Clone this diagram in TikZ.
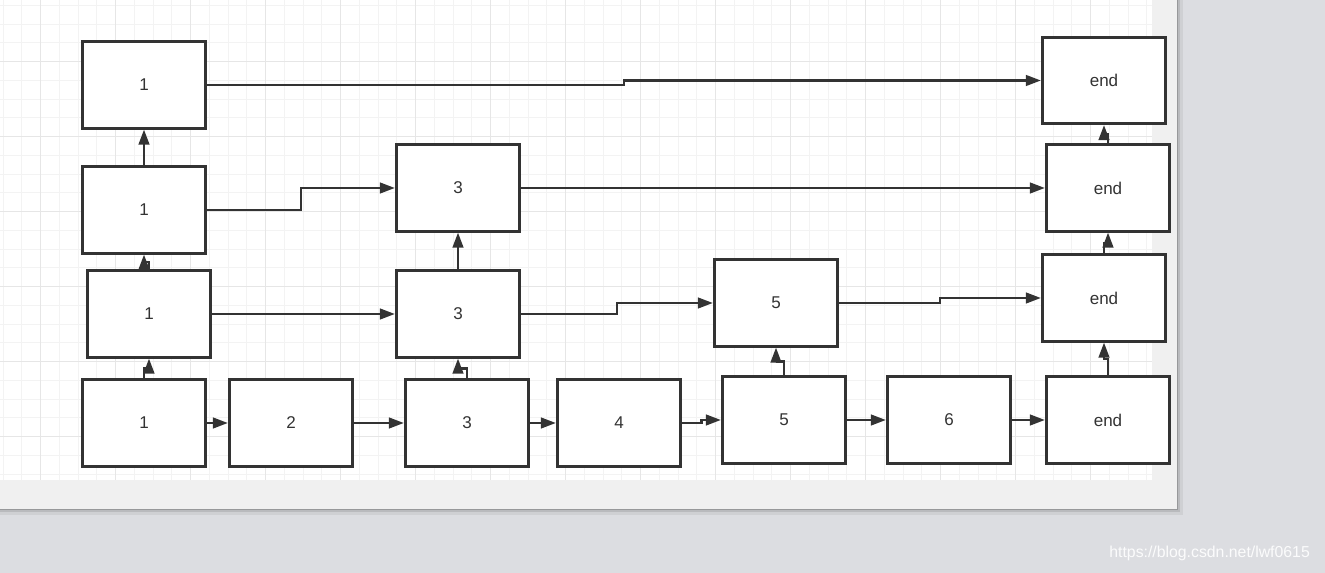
\documentclass[tikz,border=0pt]{standalone}
\usepackage{fontspec}
\setmainfont{Liberation Sans}
\usetikzlibrary{arrows.meta,calc}
\definecolor{boxline}{RGB}{51,51,51}
\definecolor{gridminor}{RGB}{243,243,243}
\definecolor{gridmajor}{RGB}{230,230,230}
\definecolor{pageband}{RGB}{240,240,240}
\definecolor{outside}{RGB}{220,221,225}

\begin{document}
\begin{tikzpicture}[x=0.02cm, y=-0.02cm, >={Triangle[length=0.3cm,width=0.21cm]},
	box/.style={draw=boxline, line width=1.5pt, fill=white, minimum width=2.47cm,
		minimum height=1.73cm, inner sep=0pt, text=boxline, font=\fontsize{9.7}{11}\selectfont},
	link/.style={->, draw=boxline, line width=1.45pt}]
			\useasboundingbox (0,0) rectangle (1325,573);
			% page and canvas
			\fill[outside] (0,0) rectangle (1325,573);
			\fill[black, opacity=0.06] (0,0) rectangle (1183,515);
			\fill[black, opacity=0.10] (0,0) rectangle (1180,512);
			\fill[black, opacity=0.18] (0,0) rectangle (1178,510);
			\fill[pageband] (0,0) rectangle (1177,509);
			\fill[white] (0,0) rectangle (1152,480);
			\foreach \gx in {0,...,61}
				\draw[gridminor, line width=0.6pt] ({3.2+18.75*\gx},0) -- ({3.2+18.75*\gx},480);
			\foreach \gy in {0,...,25}
				\draw[gridminor, line width=0.6pt] (0,{5.45+18.75*\gy}) -- (1152,{5.45+18.75*\gy});
			\foreach \gx in {0,...,14}
				\draw[gridmajor, line width=0.6pt] ({40.7+75*\gx},0) -- ({40.7+75*\gx},480);
			\foreach \gy in {1,...,6}
				\draw[gridmajor, line width=0.6pt] (0,{-13.3+75*\gy}) -- (1152,{-13.3+75*\gy});
			% level 0
			\node[box] (a1) at (144,423) {1};
			\node[box] (a2) at (291,423) {2};
			\node[box] (a3) at (467,423) {3};
			\node[box] (a4) at (619,423) {4};
			\node[box] (a5) at (784,420) {5};
			\node[box] (a6) at (949,420) {6};
			\node[box] (aend) at (1108,420) {end};
			% level 1
			\node[box] (b1) at (149,314) {1};
			\node[box] (b3) at (458,314) {3};
			\node[box] (b5) at (776,303) {5};
			\node[box] (bend) at (1104,298) {end};
			% level 2
			\node[box] (c1) at (144,210) {1};
			\node[box] (c3) at (458,188) {3};
			\node[box] (cend) at (1108,188) {end};
			% level 3
			\node[box] (d1) at (144,85) {1};
			\node[box] (dend) at (1104,80.5) {end};
			% next links
			\foreach \p/\q in {a1/a2,a2/a3,a3/a4,a4/a5,a5/a6,a6/aend,b1/b3,b3/b5,b5/bend,c1/c3,c3/cend,d1/dend}
				\draw[link] (\p.east) -| ($(\p.east)!.5!(\q.west)$) |- (\q.west);
			% up links
			\foreach \p/\q in {a1/b1,a3/b3,a5/b5,aend/bend,b1/c1,b3/c3,bend/cend,c1/d1,cend/dend}
				\draw[link] (\p.north) |- ($(\p.north)!.5!(\q.south)$) -| (\q.south);
			\node[text=white, opacity=0.9, font=\fontsize{9}{10}\selectfont, anchor=east] (mark) at (1316,553) {https://blog.csdn.net/lwf0615};
	\end{tikzpicture}
\end{document}
